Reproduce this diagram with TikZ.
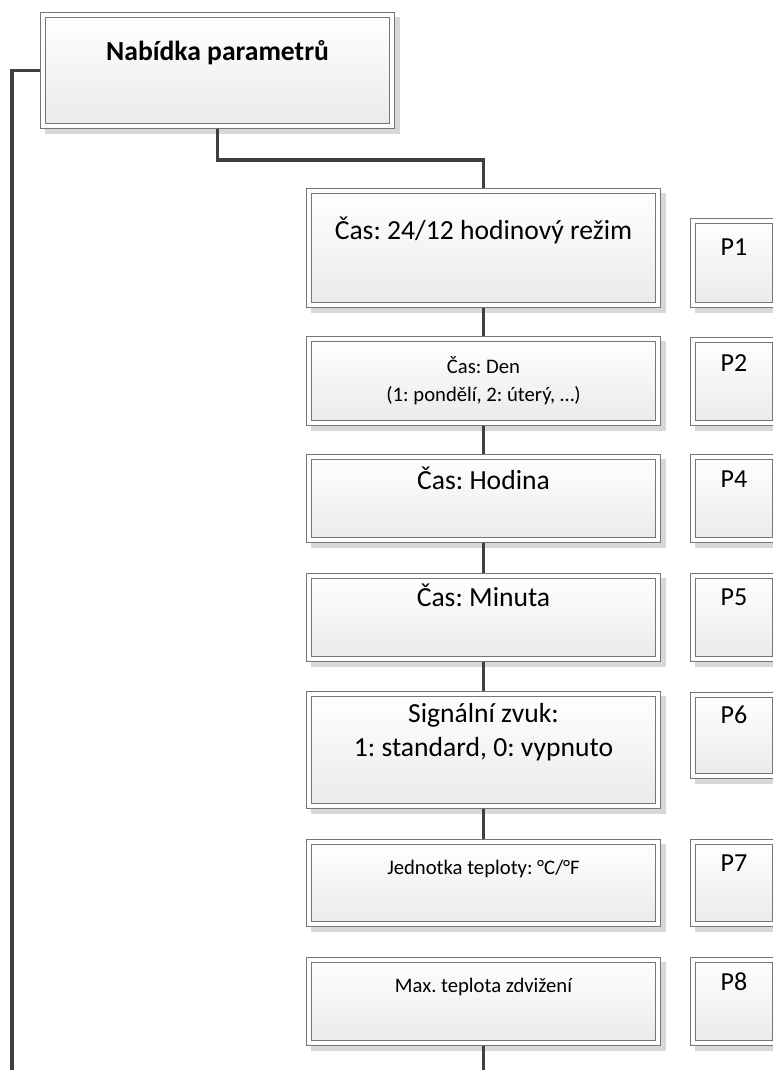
\documentclass[tikz,border=0pt]{standalone}
\usepackage{fontspec}
\setmainfont{Carlito}
\definecolor{linegray}{HTML}{404040}
\definecolor{framegray}{HTML}{767676}
\definecolor{fillgray}{HTML}{EAEAEA}
\definecolor{shadowgray}{HTML}{D8D8D8}
\tikzset{
  menubox/.style={draw=framegray, line width=0.75pt, double=white, double distance=3pt,
    top color=white, bottom color=fillgray, inner sep=0pt, outer sep=2.25pt,
    preaction={fill=shadowgray, draw=shadowgray, line width=4.5pt,
      transform canvas={shift={(3.75pt,-3.75pt)}}}},
  itembox/.style={menubox, minimum width=261.75pt},
  parambox/.style={menubox, minimum width=61.5pt},
  bigtext/.style={font=\fontsize{20.7pt}{25.5pt}\selectfont, anchor=center, align=center},
  smalltext/.style={font=\fontsize{15.5pt}{21pt}\selectfont, anchor=center, align=center},
  ptext/.style={font=\fontsize{19.5pt}{24pt}\selectfont, anchor=center, text height=12.6pt, text depth=0pt},
  oneline/.style={text height=13.3pt, text depth=0pt},
  link/.style={draw=linegray, line width=2.6pt}
}
\begin{document}
\frenchspacing
\begin{tikzpicture}[x=0.75pt,y=-0.75pt]
\useasboundingbox (0,0) rectangle (773,1070);

%% menu header
\node (title) [itembox, minimum height=83.25pt,
  label={[name=title-t, bigtext, oneline, font=\fontsize{20.7pt}{25.5pt}\selectfont\bfseries, yshift=-29.5pt]north:{Nabídka parametrů}}]
  at (217.5,70.5) {};

%% menu items
\node (hour24) [itembox, minimum height=85.5pt,
  label={[name=hour24-t, bigtext, oneline, yshift=-31.9pt]north:{Čas: 24/12 hodinový režim}}]
  at (483.5,248) {};
\node (day) [itembox, minimum height=63pt,
  label={[name=day-t, smalltext, yshift=-33.5pt]north:{Čas: Den\\(1: pondělí, 2: úterý, …)}}]
  at (483.5,381) {};
\node (hour) [itembox, minimum height=62.25pt,
  label={[name=hour-t, bigtext, oneline, yshift=-19.9pt]north:{Čas: Hodina}}]
  at (483.5,498.5) {};
\node (minute) [itembox, minimum height=62.25pt,
  label={[name=minute-t, bigtext, oneline, yshift=-18.4pt]north:{Čas: Minuta}}]
  at (483.5,617.5) {};
\node (sound) [itembox, minimum height=84pt,
  label={[name=sound-t, bigtext, yshift=-31pt]north:{Signální zvuk:\\1: standard, 0: vypnuto}}]
  at (483.5,750) {};
\node (unit) [itembox, minimum height=61.5pt,
  label={[name=unit-t, smalltext, text height=10pt, text depth=0pt, yshift=-21.4pt]north:{Jednotka teploty: °C/°F}}]
  at (483.5,883) {};
\node (maxtemp) [itembox, minimum height=62.25pt,
  label={[name=maxtemp-t, smalltext, text height=10pt, text depth=0pt, yshift=-21.4pt]north:{Max. teplota zdvižení}}]
  at (483.5,1001.5) {};

%% parameter codes
\node (p1) [parambox, minimum height=63pt,
  label={[name=p1-t, ptext, yshift=-21.75pt]north:P1}] at (734,263) {};
\node (p2) [parambox, minimum height=62.25pt,
  label={[name=p2-t, ptext, yshift=-19.9pt]north:P2}] at (734,381.5) {};
\node (p4) [parambox, minimum height=62.25pt,
  label={[name=p4-t, ptext, yshift=-18.75pt]north:P4}] at (734,498.5) {};
\node (p5) [parambox, minimum height=62.25pt,
  label={[name=p5-t, ptext, yshift=-18.4pt]north:P5}] at (734,617.5) {};
\node (p6) [parambox, minimum height=60.75pt,
  label={[name=p6-t, ptext, yshift=-17.6pt]north:P6}] at (734,735.5) {};
\node (p7) [parambox, minimum height=61.5pt,
  label={[name=p7-t, ptext, yshift=-18.4pt]north:P7}] at (734,883) {};
\node (p8) [parambox, minimum height=62.25pt,
  label={[name=p8-t, ptext, yshift=-18.75pt]north:P8}] at (734,1001.5) {};

%% connectors
\coordinate (leftend) at (12,1075);
\coordinate (bottomend) at (483.5,1075);
\draw [link] (title.west) -| (leftend);
\draw [link] (title.south) -- ++(0,31) -| (hour24.north);
\draw [link] (hour24.south) -- (day.north);
\draw [link] (day.south) -- (hour.north);
\draw [link] (hour.south) -- (minute.north);
\draw [link] (minute.south) -- (sound.north);
\draw [link] (sound.south) -- (unit.north);
\draw [link] (maxtemp.south) -- (bottomend);

\end{tikzpicture}
\end{document}
